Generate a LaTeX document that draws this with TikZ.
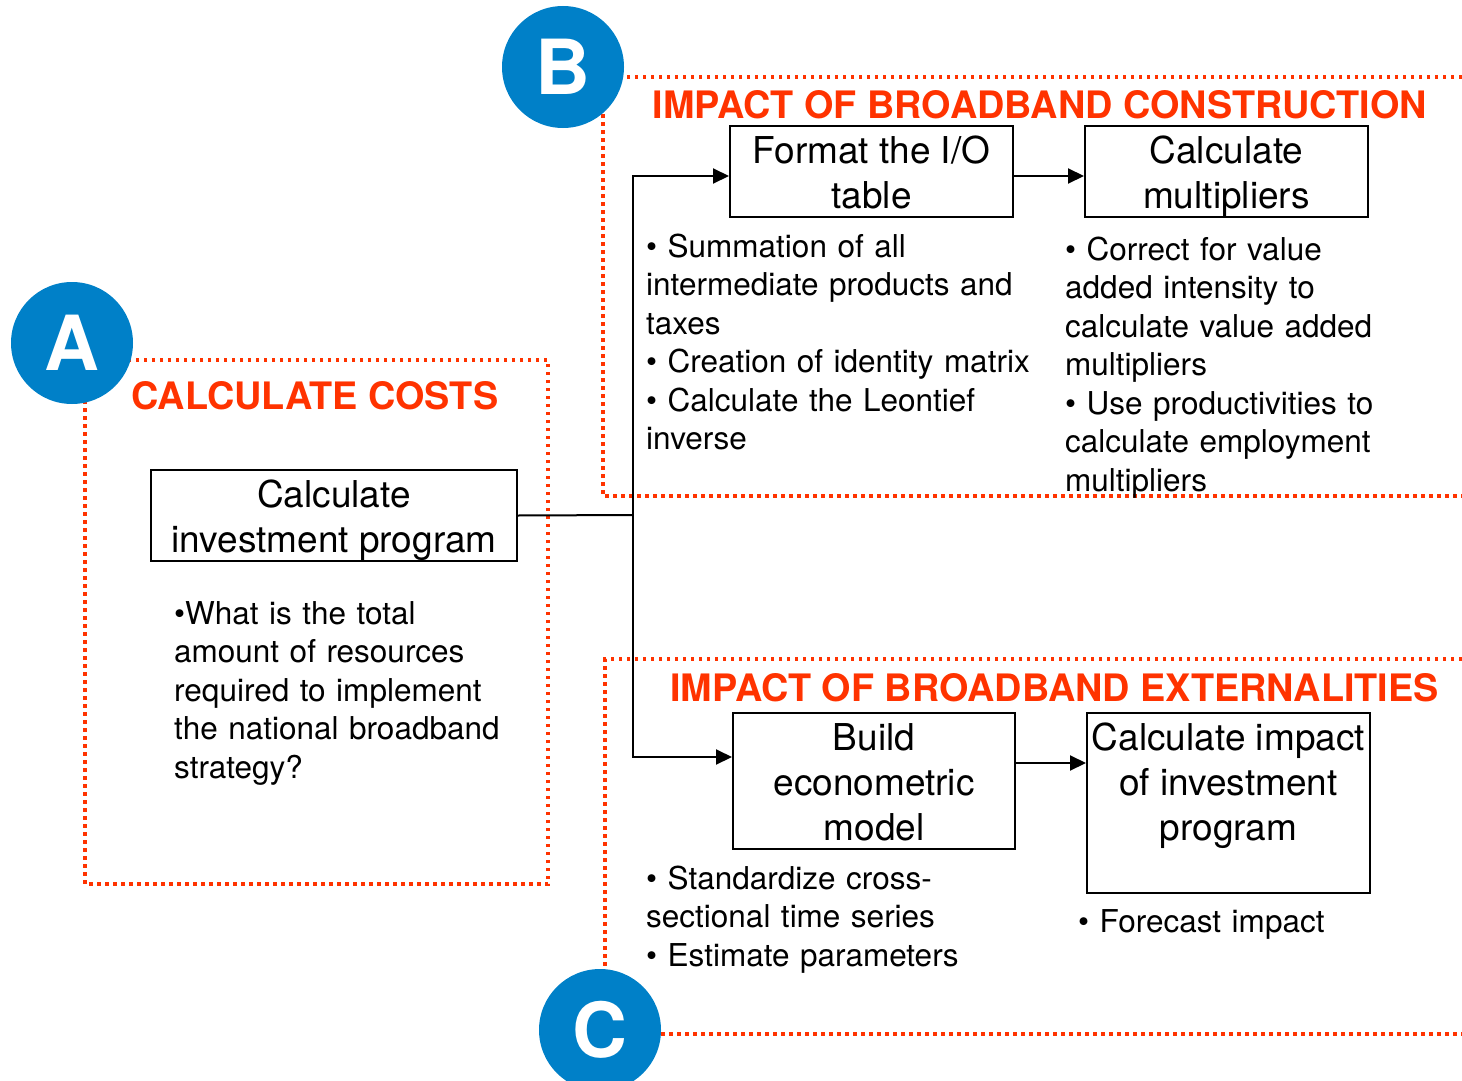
\documentclass[tikz,border=0pt]{standalone}
\usepackage{fontspec}
\setmainfont{TeX Gyre Heros}
\usetikzlibrary{arrows.meta}
\definecolor{hdred}{RGB}{255,51,0}
\definecolor{tagblue}{RGB}{0,128,200}
% invisible rules that fix the first-line height and last-line depth of a step box
\newcommand{\topstrut}{\rule{0pt}{37pt}}
\newcommand{\botstrut}[1]{\rule[-#1]{0pt}{#1}}
\begin{document}
\begin{tikzpicture}[x=1pt,y=-1pt,
  stepbox/.style={draw=black,line width=2pt,inner sep=0pt,align=center,
    font=\fontsize{37}{45}\selectfont},
  note/.style={anchor=base west,inner sep=0pt,align=left,text width=440pt,
    font=\fontsize{31.5}{38.5}\selectfont},
  heading/.style={anchor=base,inner sep=0pt,text=hdred,
    font=\fontsize{37.8}{37.8}\selectfont\bfseries},
  frame/.style={draw=hdred,line width=3.5pt,dash pattern=on 3.5pt off 4.5pt},
  tag/.style={circle,fill=tagblue,minimum size=122pt,inner sep=0pt,text=white,
    font=\fontsize{76}{76}\selectfont\bfseries},
  link/.style={line width=2pt},
  arr/.style={link,-{Triangle[length=16pt,width=15pt]}}]

\useasboundingbox (0,0) rectangle (1462,1081);
\clip (0,0) rectangle (1462,1081);

% dotted section frames
\draw[frame] (85,360) rectangle (548,884);
\draw[frame] (1462,77) -- (603,77) -- (603,496) -- (1462,496);
\draw[frame] (1462,659) -- (605,659) -- (605,1034) -- (1462,1034);

% section letters
\node[tag] (ta) at (72,343) {A};
\node[tag] (tb) at (563,67) {B};
\node[tag] (tc) at (600,1030) {C};

% section headings
\node[heading] (ha) at (315,409) {CALCULATE COSTS};
\node[heading] (hb) at (1040,118) {IMPACT OF BROADBAND CONSTRUCTION};
\node[heading] (hc) at (1054.5,701) {IMPACT OF BROADBAND EXTERNALITIES};

% process steps
\node[stepbox,minimum width=366pt,minimum height=91pt] (inv) at (334,515.5)
  {\topstrut Calculate\\investment program\botstrut{9pt}};
\node[stepbox,minimum width=283pt,minimum height=91pt] (io) at (871.5,171.5)
  {\topstrut Format the I/O\\table\botstrut{9pt}};
\node[stepbox,minimum width=283pt,minimum height=91pt] (mult) at (1226.5,171.5)
  {\topstrut Calculate\\multipliers\botstrut{9pt}};
\node[stepbox,minimum width=282pt,minimum height=136pt] (build) at (874,781)
  {\topstrut Build\\econometric\\model\botstrut{9pt}};
\node[stepbox,minimum width=283pt,minimum height=180pt] (impact) at (1228.5,803)
  {\topstrut Calculate impact\\of investment\\program\botstrut{53pt}};

% notes
\node[note] (na) at (174,624)
  {\textbullet What is the total\\amount of resources\\required to implement\\the national broadband\\strategy?};
\node[note] (nio) at (646,257)
  {\textbullet{} Summation of all\\intermediate products and\\taxes\\\textbullet{} Creation of identity matrix\\\textbullet{} Calculate the Leontief\\inverse};
\node[note] (nmult) at (1065,260)
  {\textbullet{} Correct for value\\added intensity to\\calculate value added\\multipliers\\\textbullet{} Use productivities to\\calculate employment\\multipliers};
\node[note] (nbuild) at (646,889)
  {\textbullet{} Standardize cross-\\sectional time series\\\textbullet{} Estimate parameters};
\node[note] (nimpact) at (1078,932)
  {\textbullet{} Forecast impact};

% connectors
\coordinate (j) at (633,515);
\coordinate (jt) at (633,176);
\coordinate (jb) at (633,757);
\coordinate (jm) at (1015,763);
\draw[link] (inv.east) -- (j);
\draw[arr] (j) -- (jt) -- (io.west |- jt);
\draw[arr] (j) -- (jb) -- (build.west |- jb);
\draw[arr] (io.east |- jt) -- (mult.west |- jt);
\draw[arr] (build.east |- jm) -- (impact.west |- jm);
\end{tikzpicture}
\end{document}
